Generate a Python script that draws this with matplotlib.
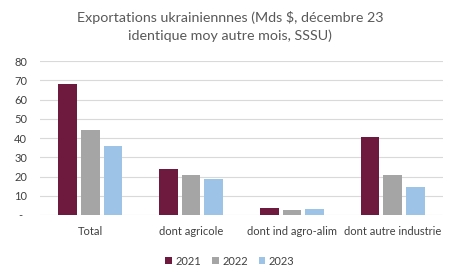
import matplotlib
matplotlib.use('Agg')
import matplotlib.pyplot as plt
import numpy as np

plt.rcParams['font.family'] = ['Lato', 'DejaVu Sans']

# données
categories = ['Total', 'dont agricole', 'dont ind agro-alim', 'dont autre industrie']
series = ['2021', '2022', '2023']
v2021 = [68.0, 24.0, 3.8, 40.5]
v2022 = [44.2, 20.8, 2.6, 20.8]
v2023 = [35.8, 18.5, 3.3, 14.4]
yticks = [0, 10, 20, 30, 40, 50, 60, 70, 80]
ytick_labels = ['-', '10', '20', '30', '40', '50', '60', '70', '80']
colors = ['#6e1a3e', '#a5a5a5', '#9dc3e6']

fig = plt.figure(figsize=(4.6, 2.75), dpi=100)
ax = fig.add_axes([0.087, 0.218, 0.876, 0.56])

x = np.arange(len(categories))
w = 0.185
step = 0.225
for i, (vals, lab, c) in enumerate(zip([v2021, v2022, v2023], series, colors)):
    ax.bar(x + (i - 1) * step, vals, width=w, color=c, label=lab, zorder=3)

ax.set_xlim(-0.5, len(categories) - 0.5)
ax.set_ylim(0, 80)
ax.set_yticks(yticks)
ax.set_yticklabels(ytick_labels)
ax.set_xticks(x)
ax.set_xticklabels(categories)
ax.grid(axis='y', color='#d9d9d9', linewidth=0.8, zorder=0)
for s in ax.spines.values():
    s.set_visible(False)
ax.tick_params(length=0, colors='#404040', labelsize=8)
ax.tick_params(axis='x', pad=8)
ax.tick_params(axis='y', pad=14)
for t in ax.get_yticklabels():
    t.set_horizontalalignment('center')

fig.suptitle('Exportations ukrainiennnes (Mds $, décembre 23\nidentique moy autre mois, SSSU)',
             y=0.96, fontsize=10.3, color='#595959', linespacing=1.55)

ax.legend(loc='upper center', bbox_to_anchor=(0.471, -0.2), ncol=3, frameon=False,
          fontsize=8, handlelength=0.6, handleheight=0.6, handletextpad=0.3,
          columnspacing=1.0, labelcolor='#404040')

fig.savefig('out.png', dpi=100)
